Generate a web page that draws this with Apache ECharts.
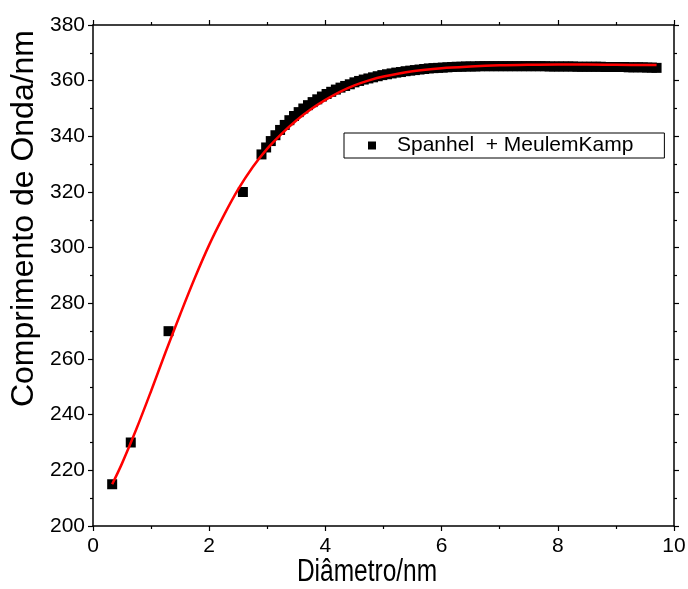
<!DOCTYPE html>
<html>
<head>
<meta charset="utf-8">
<script src="https://cdn.jsdelivr.net/npm/echarts@6/dist/echarts.min.js"></script>
<style>
html,body{margin:0;padding:0;background:#fff;}
#chart{width:688px;height:589px;}
</style>
</head>
<body>
<div id="chart"></div>
<script>
// Measured points (Spanhel + MeulemKamp)
const spanhelX = [0.33, 0.65, 1.30, 2.58,
  2.90, 2.98, 3.06, 3.14, 3.22, 3.30, 3.38, 3.46, 3.54, 3.62, 3.70, 3.78, 3.86, 3.94,
  4.02, 4.10, 4.18, 4.26, 4.34, 4.42, 4.50, 4.58, 4.66, 4.74, 4.82, 4.90, 4.98,
  5.06, 5.14, 5.22, 5.30, 5.38, 5.46, 5.54, 5.62, 5.70, 5.78, 5.86, 5.94,
  6.02, 6.10, 6.18, 6.26, 6.34, 6.42, 6.50, 6.58, 6.66, 6.74, 6.82, 6.90, 6.98,
  7.06, 7.14, 7.22, 7.30, 7.38, 7.46, 7.54, 7.62, 7.70, 7.78, 7.86, 7.94,
  8.02, 8.10, 8.18, 8.26, 8.34, 8.42, 8.50, 8.58, 8.66, 8.74, 8.82, 8.90, 8.98,
  9.06, 9.14, 9.22, 9.30, 9.38, 9.46, 9.54, 9.62, 9.70];
const spanhelY = [215, 230, 270, 320,
  333.5, 336.0, 338.3, 340.4, 342.3, 344.1, 345.8, 347.3, 348.7, 350.0, 351.2, 352.3, 353.3, 354.3,
  355.2, 356.0, 356.8, 357.5, 358.1, 358.7, 359.4, 359.9, 360.4, 360.8, 361.2, 361.6, 362.0,
  362.3, 362.6, 362.9, 363.1, 363.4, 363.6, 363.8, 364.0, 364.2, 364.4, 364.5, 364.6,
  364.7, 364.8, 364.9, 365.0, 365.0, 365.1, 365.1, 365.1, 365.2, 365.2, 365.2, 365.2, 365.2,
  365.2, 365.2, 365.2, 365.2, 365.2, 365.2, 365.2, 365.2, 365.2, 365.2, 365.1, 365.1,
  365.1, 365.1, 365.1, 365.1, 365.0, 365.0, 365.0, 365.0, 365.0, 365.0, 364.9, 364.9, 364.9,
  364.9, 364.9, 364.8, 364.8, 364.8, 364.8, 364.7, 364.7, 364.6, 364.6];

// Fitted curve (red)
const fitX = [0.33, 0.5, 0.75, 1.0, 1.25, 1.5, 1.75, 2.0, 2.25, 2.5, 2.75, 3.0, 3.25, 3.5, 3.75,
  4.0, 4.25, 4.5, 4.75, 5.0, 5.5, 6.0, 6.5, 7.0, 7.5, 8.0, 8.5, 9.0, 9.7];
const fitY = [215, 222.5, 235, 248.5, 262.5, 276, 289, 301, 311.5, 321, 329, 335.6, 341.0, 345.7, 349.7,
  353.1, 356.0, 358.3, 360.1, 361.5, 363.4, 364.5, 365.1, 365.5, 365.7, 365.8, 365.8, 365.7, 365.6];

const seriesName = 'Spanhel  + MeulemKamp';
const xTitle = 'Diâmetro/nm';
const yTitle = 'Comprimento de Onda/nm';

const regular = "'Liberation Sans', Arial, sans-serif";

const chart = echarts.init(document.getElementById('chart'), null, {renderer: 'canvas'});

const axisLineStyle = {color: '#000', width: 1.5};
const baseX = {
  type: 'value', min: 0, max: 10, interval: 2,
  axisLine: {show: true, onZero: false, lineStyle: axisLineStyle},
  axisTick: {show: true, inside: false, length: 5, lineStyle: {color: '#000', width: 1.2}},
  minorTick: {show: true, splitNumber: 2, length: 3, lineStyle: {color: '#000', width: 1.2}},
  splitLine: {show: false}
};
const baseY = {
  type: 'value', min: 200, max: 380, interval: 20,
  axisLine: {show: true, onZero: false, lineStyle: axisLineStyle},
  axisTick: {show: true, inside: false, length: 5, lineStyle: {color: '#000', width: 1.2}},
  minorTick: {show: true, splitNumber: 2, length: 3, lineStyle: {color: '#000', width: 1.2}},
  splitLine: {show: false}
};

chart.setOption({
  animation: false,
  backgroundColor: '#fff',
  grid: {left: 93, right: 14, top: 25, bottom: 63, containLabel: false, outerBoundsMode: 'none'},
  legend: {
    show: true,
    data: [seriesName],
    left: 344, top: 133,
    orient: 'horizontal',
    selectedMode: false,
    icon: 'rect',
    itemWidth: 8, itemHeight: 8,
    padding: [2, 31, 2, 24],
    borderColor: '#000', borderWidth: 1, borderRadius: 0,
    textStyle: {fontFamily: regular, fontSize: 21, color: '#000', padding: [0, 0, 0, 16]}
  },
  graphic: [{
    type: 'text',
    x: 367, y: 572,
    scaleX: 0.79,
    silent: true,
    style: {
      text: xTitle,
      fontFamily: regular, fontSize: 31, fill: '#000',
      align: 'center', verticalAlign: 'middle'
    }
  }],
  xAxis: [
    Object.assign({}, baseX, {
      position: 'bottom',
      axisLabel: {show: true, margin: 10, fontFamily: regular, fontSize: 21, color: '#000'}
    }),
    Object.assign({}, baseX, {
      position: 'top',
      axisLabel: {show: false}
    })
  ],
  yAxis: [
    Object.assign({}, baseY, {
      position: 'left',
      name: yTitle, nameLocation: 'middle', nameGap: 53, nameRotate: 90, nameMoveOverlap: false,
      nameTextStyle: {fontFamily: regular, fontSize: 32, color: '#000', padding: [0, 0, 0, 114]},
      axisLabel: {show: true, margin: 8, fontFamily: regular, fontSize: 21, color: '#000'}
    }),
    Object.assign({}, baseY, {
      position: 'right',
      axisLabel: {show: false}
    })
  ],
  series: [
    {
      name: seriesName,
      type: 'scatter',
      symbol: 'rect',
      symbolSize: 10,
      itemStyle: {color: '#000', opacity: 1},
      data: spanhelX.map((x, i) => [x, spanhelY[i]]),
      z: 2
    },
    {
      name: 'fit',
      type: 'line',
      smooth: 0.35,
      showSymbol: false,
      symbol: 'none',
      lineStyle: {color: '#ff0000', width: 2.5},
      data: fitX.map((x, i) => [x, fitY[i]]),
      z: 3
    }
  ]
});
</script>
</body>
</html>
